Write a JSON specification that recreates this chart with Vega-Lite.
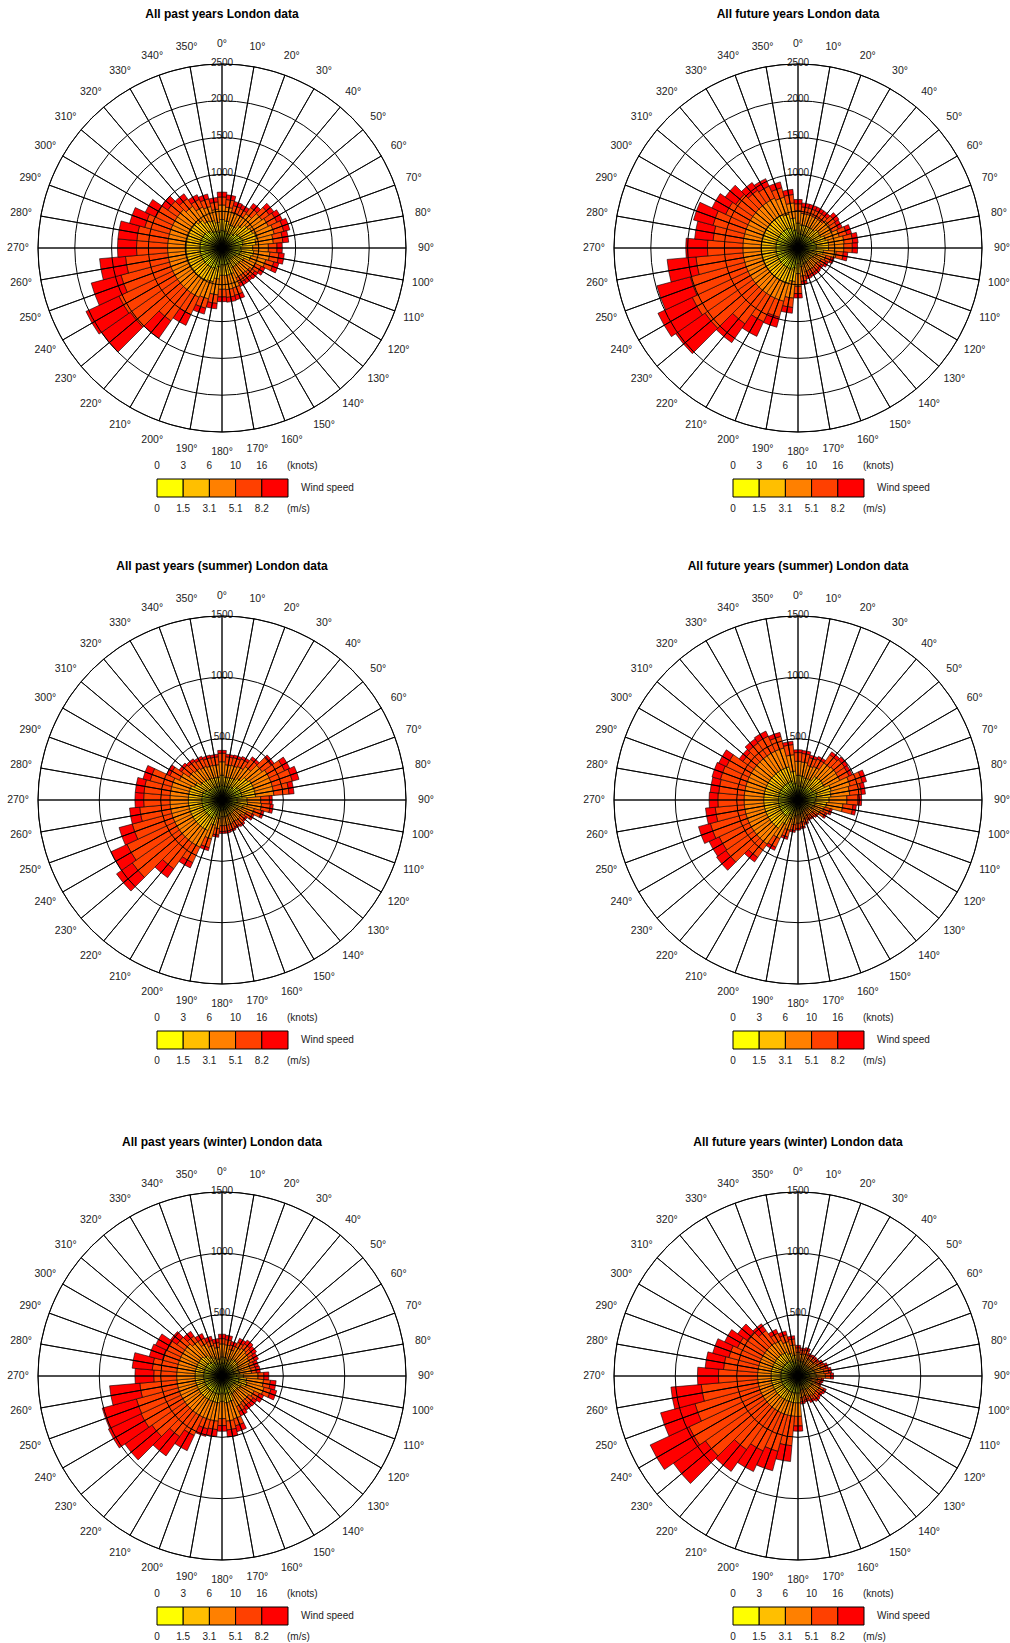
{
"$schema": "https://vega.github.io/schema/vega-lite/v6.json",
"padding": {"left": 6, "top": 8, "right": 0, "bottom": 0},
"autosize": {"type": "pad"},
"background": "white",
"config": {"view": {"stroke": null}, "font": "Liberation Sans", "title": {"font": "Liberation Sans"}},
"datasets": {
"dirs": [{"d":0,"lab":"0°"},{"d":10,"lab":"10°"},{"d":20,"lab":"20°"},{"d":30,"lab":"30°"},{"d":40,"lab":"40°"},{"d":50,"lab":"50°"},{"d":60,"lab":"60°"},{"d":70,"lab":"70°"},{"d":80,"lab":"80°"},{"d":90,"lab":"90°"},{"d":100,"lab":"100°"},{"d":110,"lab":"110°"},{"d":120,"lab":"120°"},{"d":130,"lab":"130°"},{"d":140,"lab":"140°"},{"d":150,"lab":"150°"},{"d":160,"lab":"160°"},{"d":170,"lab":"170°"},{"d":180,"lab":"180°"},{"d":190,"lab":"190°"},{"d":200,"lab":"200°"},{"d":210,"lab":"210°"},{"d":220,"lab":"220°"},{"d":230,"lab":"230°"},{"d":240,"lab":"240°"},{"d":250,"lab":"250°"},{"d":260,"lab":"260°"},{"d":270,"lab":"270°"},{"d":280,"lab":"280°"},{"d":290,"lab":"290°"},{"d":300,"lab":"300°"},{"d":310,"lab":"310°"},{"d":320,"lab":"320°"},{"d":330,"lab":"330°"},{"d":340,"lab":"340°"},{"d":350,"lab":"350°"}],
"ringsTop": [{"r":500,"lab":"500"},{"r":1000,"lab":"1000"},{"r":1500,"lab":"1500"},{"r":2000,"lab":"2000"},{"r":2500,"lab":"2500"}],
"ringsBot": [{"r":500,"lab":"500"},{"r":1000,"lab":"1000"},{"r":1500,"lab":"1500"}],
"legend": [{"cls":"s1","kn":"0","ms":"0"},{"cls":"s2","kn":"3","ms":"1.5"},{"cls":"s3","kn":"6","ms":"3.1"},{"cls":"s4","kn":"10","ms":"5.1"},{"cls":"s5","kn":"16","ms":"8.2"}],
"wind": [
{"p":"A","d":0,"s1":237,"s2":150,"s3":198,"s4":109,"s5":66},
{"p":"A","d":10,"s1":226,"s2":143,"s3":188,"s4":104,"s5":64},
{"p":"A","d":20,"s1":204,"s2":129,"s3":170,"s4":94,"s5":58},
{"p":"A","d":30,"s1":201,"s2":127,"s3":168,"s4":92,"s5":57},
{"p":"A","d":40,"s1":231,"s2":146,"s3":192,"s4":106,"s5":65},
{"p":"A","d":50,"s1":268,"s2":170,"s3":224,"s4":123,"s5":75},
{"p":"A","d":60,"s1":282,"s2":179,"s3":235,"s4":130,"s5":79},
{"p":"A","d":70,"s1":298,"s2":189,"s3":248,"s4":136,"s5":84},
{"p":"A","d":80,"s1":284,"s2":180,"s3":237,"s4":130,"s5":79},
{"p":"A","d":90,"s1":256,"s2":162,"s3":213,"s4":117,"s5":72},
{"p":"A","d":100,"s1":265,"s2":168,"s3":221,"s4":122,"s5":74},
{"p":"A","d":110,"s1":250,"s2":158,"s3":208,"s4":114,"s5":70},
{"p":"A","d":120,"s1":201,"s2":127,"s3":168,"s4":92,"s5":57},
{"p":"A","d":130,"s1":186,"s2":118,"s3":155,"s4":84,"s5":52},
{"p":"A","d":140,"s1":181,"s2":115,"s3":151,"s4":82,"s5":51},
{"p":"A","d":150,"s1":181,"s2":115,"s3":151,"s4":82,"s5":51},
{"p":"A","d":160,"s1":228,"s2":144,"s3":190,"s4":104,"s5":64},
{"p":"A","d":170,"s1":231,"s2":146,"s3":192,"s4":106,"s5":65},
{"p":"A","d":180,"s1":228,"s2":144,"s3":190,"s4":104,"s5":64},
{"p":"A","d":190,"s1":259,"s2":164,"s3":216,"s4":118,"s5":73},
{"p":"A","d":200,"s1":290,"s2":184,"s3":242,"s4":133,"s5":81},
{"p":"A","d":210,"s1":300,"s2":190,"s3":250,"s4":260,"s5":160},
{"p":"A","d":220,"s1":300,"s2":190,"s3":250,"s4":471,"s5":289},
{"p":"A","d":230,"s1":300,"s2":190,"s3":250,"s4":781,"s5":479},
{"p":"A","d":240,"s1":300,"s2":190,"s3":250,"s4":806,"s5":494},
{"p":"A","d":250,"s1":300,"s2":190,"s3":250,"s4":682,"s5":418},
{"p":"A","d":260,"s1":300,"s2":190,"s3":250,"s4":577,"s5":353},
{"p":"A","d":270,"s1":300,"s2":190,"s3":250,"s4":422,"s5":258},
{"p":"A","d":280,"s1":300,"s2":190,"s3":250,"s4":422,"s5":258},
{"p":"A","d":290,"s1":300,"s2":190,"s3":250,"s4":347,"s5":213},
{"p":"A","d":300,"s1":300,"s2":190,"s3":250,"s4":254,"s5":156},
{"p":"A","d":310,"s1":300,"s2":190,"s3":250,"s4":161,"s5":99},
{"p":"A","d":320,"s1":281,"s2":178,"s3":234,"s4":128,"s5":79},
{"p":"A","d":330,"s1":250,"s2":158,"s3":208,"s4":114,"s5":70},
{"p":"A","d":340,"s1":237,"s2":150,"s3":198,"s4":109,"s5":66},
{"p":"A","d":350,"s1":215,"s2":136,"s3":179,"s4":99,"s5":61},
{"p":"B","d":0,"s1":203,"s2":135,"s3":169,"s4":95,"s5":58},
{"p":"B","d":10,"s1":189,"s2":126,"s3":158,"s4":88,"s5":54},
{"p":"B","d":20,"s1":189,"s2":126,"s3":158,"s4":88,"s5":54},
{"p":"B","d":30,"s1":189,"s2":126,"s3":158,"s4":88,"s5":54},
{"p":"B","d":40,"s1":189,"s2":126,"s3":158,"s4":88,"s5":54},
{"p":"B","d":50,"s1":209,"s2":139,"s3":174,"s4":98,"s5":60},
{"p":"B","d":60,"s1":205,"s2":136,"s3":171,"s4":95,"s5":58},
{"p":"B","d":70,"s1":232,"s2":155,"s3":194,"s4":108,"s5":66},
{"p":"B","d":80,"s1":252,"s2":168,"s3":210,"s4":118,"s5":72},
{"p":"B","d":90,"s1":249,"s2":166,"s3":208,"s4":116,"s5":71},
{"p":"B","d":100,"s1":209,"s2":139,"s3":174,"s4":98,"s5":60},
{"p":"B","d":110,"s1":157,"s2":105,"s3":131,"s4":73,"s5":44},
{"p":"B","d":120,"s1":140,"s2":93,"s3":117,"s4":65,"s5":40},
{"p":"B","d":130,"s1":129,"s2":86,"s3":108,"s4":60,"s5":37},
{"p":"B","d":140,"s1":132,"s2":88,"s3":110,"s4":62,"s5":38},
{"p":"B","d":150,"s1":132,"s2":88,"s3":110,"s4":62,"s5":38},
{"p":"B","d":160,"s1":135,"s2":90,"s3":113,"s4":63,"s5":39},
{"p":"B","d":170,"s1":154,"s2":103,"s3":128,"s4":71,"s5":44},
{"p":"B","d":180,"s1":209,"s2":139,"s3":174,"s4":98,"s5":60},
{"p":"B","d":190,"s1":274,"s2":183,"s3":228,"s4":127,"s5":78},
{"p":"B","d":200,"s1":300,"s2":200,"s3":250,"s4":226,"s5":139},
{"p":"B","d":210,"s1":300,"s2":200,"s3":250,"s4":357,"s5":218},
{"p":"B","d":220,"s1":300,"s2":200,"s3":250,"s4":508,"s5":312},
{"p":"B","d":230,"s1":300,"s2":200,"s3":250,"s4":794,"s5":486},
{"p":"B","d":240,"s1":300,"s2":200,"s3":250,"s4":837,"s5":513},
{"p":"B","d":250,"s1":300,"s2":200,"s3":250,"s4":766,"s5":469},
{"p":"B","d":260,"s1":300,"s2":200,"s3":250,"s4":642,"s5":393},
{"p":"B","d":270,"s1":300,"s2":200,"s3":250,"s4":481,"s5":294},
{"p":"B","d":280,"s1":300,"s2":200,"s3":250,"s4":409,"s5":251},
{"p":"B","d":290,"s1":300,"s2":200,"s3":250,"s4":446,"s5":274},
{"p":"B","d":300,"s1":300,"s2":200,"s3":250,"s4":335,"s5":205},
{"p":"B","d":310,"s1":300,"s2":200,"s3":250,"s4":283,"s5":174},
{"p":"B","d":320,"s1":300,"s2":200,"s3":250,"s4":209,"s5":128},
{"p":"B","d":330,"s1":300,"s2":200,"s3":250,"s4":180,"s5":110},
{"p":"B","d":340,"s1":286,"s2":191,"s3":239,"s4":133,"s5":81},
{"p":"B","d":350,"s1":246,"s2":164,"s3":205,"s4":115,"s5":70},
{"p":"C","d":0,"s1":121,"s2":81,"s3":110,"s4":70,"s5":23},
{"p":"C","d":10,"s1":112,"s2":75,"s3":102,"s4":65,"s5":21},
{"p":"C","d":20,"s1":114,"s2":76,"s3":103,"s4":65,"s5":22},
{"p":"C","d":30,"s1":117,"s2":78,"s3":107,"s4":68,"s5":22},
{"p":"C","d":40,"s1":129,"s2":86,"s3":117,"s4":74,"s5":24},
{"p":"C","d":50,"s1":155,"s2":104,"s3":141,"s4":90,"s5":30},
{"p":"C","d":60,"s1":165,"s2":110,"s3":150,"s4":139,"s5":46},
{"p":"C","d":70,"s1":165,"s2":110,"s3":150,"s4":169,"s5":56},
{"p":"C","d":80,"s1":165,"s2":110,"s3":150,"s4":124,"s5":41},
{"p":"C","d":90,"s1":123,"s2":82,"s3":111,"s4":71,"s5":23},
{"p":"C","d":100,"s1":126,"s2":84,"s3":114,"s4":72,"s5":24},
{"p":"C","d":110,"s1":106,"s2":71,"s3":96,"s4":62,"s5":20},
{"p":"C","d":120,"s1":86,"s2":57,"s3":78,"s4":50,"s5":17},
{"p":"C","d":130,"s1":75,"s2":50,"s3":68,"s4":43,"s5":14},
{"p":"C","d":140,"s1":79,"s2":53,"s3":72,"s4":46,"s5":15},
{"p":"C","d":150,"s1":77,"s2":51,"s3":70,"s4":44,"s5":14},
{"p":"C","d":160,"s1":80,"s2":53,"s3":73,"s4":47,"s5":15},
{"p":"C","d":170,"s1":82,"s2":54,"s3":74,"s4":47,"s5":16},
{"p":"C","d":180,"s1":82,"s2":54,"s3":74,"s4":47,"s5":16},
{"p":"C","d":190,"s1":91,"s2":61,"s3":83,"s4":53,"s5":17},
{"p":"C","d":200,"s1":128,"s2":85,"s3":116,"s4":74,"s5":25},
{"p":"C","d":210,"s1":165,"s2":110,"s3":150,"s4":140,"s5":46},
{"p":"C","d":220,"s1":165,"s2":110,"s3":150,"s4":261,"s5":87},
{"p":"C","d":230,"s1":165,"s2":110,"s3":150,"s4":469,"s5":156},
{"p":"C","d":240,"s1":165,"s2":110,"s3":150,"s4":431,"s5":144},
{"p":"C","d":250,"s1":165,"s2":110,"s3":150,"s4":333,"s5":111},
{"p":"C","d":260,"s1":165,"s2":110,"s3":150,"s4":249,"s5":83},
{"p":"C","d":270,"s1":165,"s2":110,"s3":150,"s4":214,"s5":71},
{"p":"C","d":280,"s1":165,"s2":110,"s3":150,"s4":214,"s5":71},
{"p":"C","d":290,"s1":165,"s2":110,"s3":150,"s4":182,"s5":60},
{"p":"C","d":300,"s1":149,"s2":99,"s3":135,"s4":86,"s5":28},
{"p":"C","d":310,"s1":128,"s2":85,"s3":116,"s4":74,"s5":24},
{"p":"C","d":320,"s1":123,"s2":82,"s3":111,"s4":71,"s5":23},
{"p":"C","d":330,"s1":118,"s2":79,"s3":107,"s4":68,"s5":22},
{"p":"C","d":340,"s1":114,"s2":76,"s3":103,"s4":65,"s5":22},
{"p":"C","d":350,"s1":112,"s2":75,"s3":102,"s4":65,"s5":21},
{"p":"D","d":0,"s1":115,"s2":86,"s3":115,"s4":71,"s5":23},
{"p":"D","d":10,"s1":113,"s2":85,"s3":113,"s4":70,"s5":24},
{"p":"D","d":20,"s1":106,"s2":80,"s3":106,"s4":66,"s5":22},
{"p":"D","d":30,"s1":110,"s2":82,"s3":110,"s4":68,"s5":23},
{"p":"D","d":40,"s1":134,"s2":101,"s3":134,"s4":83,"s5":28},
{"p":"D","d":50,"s1":138,"s2":104,"s3":138,"s4":86,"s5":29},
{"p":"D","d":60,"s1":137,"s2":103,"s3":137,"s4":84,"s5":28},
{"p":"D","d":70,"s1":160,"s2":120,"s3":160,"s4":104,"s5":35},
{"p":"D","d":80,"s1":154,"s2":116,"s3":154,"s4":96,"s5":32},
{"p":"D","d":90,"s1":145,"s2":109,"s3":145,"s4":90,"s5":30},
{"p":"D","d":100,"s1":134,"s2":100,"s3":134,"s4":83,"s5":27},
{"p":"D","d":110,"s1":81,"s2":61,"s3":81,"s4":50,"s5":17},
{"p":"D","d":120,"s1":73,"s2":55,"s3":73,"s4":46,"s5":15},
{"p":"D","d":130,"s1":56,"s2":42,"s3":56,"s4":36,"s5":12},
{"p":"D","d":140,"s1":53,"s2":40,"s3":53,"s4":33,"s5":11},
{"p":"D","d":150,"s1":52,"s2":39,"s3":52,"s4":32,"s5":11},
{"p":"D","d":160,"s1":58,"s2":44,"s3":58,"s4":36,"s5":12},
{"p":"D","d":170,"s1":66,"s2":49,"s3":66,"s4":41,"s5":13},
{"p":"D","d":180,"s1":69,"s2":52,"s3":69,"s4":42,"s5":14},
{"p":"D","d":190,"s1":74,"s2":56,"s3":74,"s4":46,"s5":15},
{"p":"D","d":200,"s1":93,"s2":70,"s3":93,"s4":58,"s5":19},
{"p":"D","d":210,"s1":127,"s2":95,"s3":127,"s4":78,"s5":26},
{"p":"D","d":220,"s1":160,"s2":120,"s3":160,"s4":133,"s5":44},
{"p":"D","d":230,"s1":160,"s2":120,"s3":160,"s4":278,"s5":93},
{"p":"D","d":240,"s1":160,"s2":120,"s3":160,"s4":270,"s5":90},
{"p":"D","d":250,"s1":160,"s2":120,"s3":160,"s4":300,"s5":100},
{"p":"D","d":260,"s1":160,"s2":120,"s3":160,"s4":238,"s5":79},
{"p":"D","d":270,"s1":160,"s2":120,"s3":160,"s4":214,"s5":71},
{"p":"D","d":280,"s1":160,"s2":120,"s3":160,"s4":209,"s5":70},
{"p":"D","d":290,"s1":160,"s2":120,"s3":160,"s4":215,"s5":71},
{"p":"D","d":300,"s1":160,"s2":120,"s3":160,"s4":205,"s5":68},
{"p":"D","d":310,"s1":160,"s2":120,"s3":160,"s4":109,"s5":36},
{"p":"D","d":320,"s1":160,"s2":120,"s3":160,"s4":128,"s5":42},
{"p":"D","d":330,"s1":160,"s2":120,"s3":160,"s4":135,"s5":45},
{"p":"D","d":340,"s1":160,"s2":120,"s3":160,"s4":98,"s5":33},
{"p":"D","d":350,"s1":135,"s2":101,"s3":135,"s4":83,"s5":27},
{"p":"E","d":0,"s1":106,"s2":50,"s3":106,"s4":43,"s5":36},
{"p":"E","d":10,"s1":104,"s2":48,"s3":104,"s4":42,"s5":35},
{"p":"E","d":20,"s1":91,"s2":43,"s3":91,"s4":37,"s5":31},
{"p":"E","d":30,"s1":106,"s2":49,"s3":106,"s4":43,"s5":35},
{"p":"E","d":40,"s1":112,"s2":52,"s3":112,"s4":45,"s5":37},
{"p":"E","d":50,"s1":107,"s2":50,"s3":107,"s4":44,"s5":36},
{"p":"E","d":60,"s1":102,"s2":48,"s3":102,"s4":42,"s5":34},
{"p":"E","d":70,"s1":96,"s2":45,"s3":96,"s4":39,"s5":32},
{"p":"E","d":80,"s1":98,"s2":46,"s3":98,"s4":40,"s5":32},
{"p":"E","d":90,"s1":119,"s2":56,"s3":119,"s4":48,"s5":40},
{"p":"E","d":100,"s1":138,"s2":64,"s3":138,"s4":57,"s5":46},
{"p":"E","d":110,"s1":144,"s2":67,"s3":144,"s4":59,"s5":48},
{"p":"E","d":120,"s1":117,"s2":55,"s3":117,"s4":47,"s5":39},
{"p":"E","d":130,"s1":108,"s2":50,"s3":108,"s4":45,"s5":36},
{"p":"E","d":140,"s1":107,"s2":50,"s3":107,"s4":43,"s5":35},
{"p":"E","d":150,"s1":112,"s2":52,"s3":112,"s4":46,"s5":38},
{"p":"E","d":160,"s1":147,"s2":68,"s3":147,"s4":59,"s5":49},
{"p":"E","d":170,"s1":150,"s2":70,"s3":150,"s4":72,"s5":58},
{"p":"E","d":180,"s1":141,"s2":66,"s3":141,"s4":57,"s5":46},
{"p":"E","d":190,"s1":150,"s2":70,"s3":150,"s4":69,"s5":56},
{"p":"E","d":200,"s1":150,"s2":70,"s3":150,"s4":77,"s5":63},
{"p":"E","d":210,"s1":150,"s2":70,"s3":150,"s4":166,"s5":136},
{"p":"E","d":220,"s1":150,"s2":70,"s3":150,"s4":234,"s5":191},
{"p":"E","d":230,"s1":150,"s2":70,"s3":150,"s4":328,"s5":269},
{"p":"E","d":240,"s1":150,"s2":70,"s3":150,"s4":359,"s5":293},
{"p":"E","d":250,"s1":150,"s2":70,"s3":150,"s4":353,"s5":288},
{"p":"E","d":260,"s1":150,"s2":70,"s3":150,"s4":303,"s5":247},
{"p":"E","d":270,"s1":150,"s2":70,"s3":150,"s4":187,"s5":153},
{"p":"E","d":280,"s1":150,"s2":70,"s3":150,"s4":201,"s5":164},
{"p":"E","d":290,"s1":150,"s2":70,"s3":150,"s4":134,"s5":110},
{"p":"E","d":300,"s1":150,"s2":70,"s3":150,"s4":125,"s5":103},
{"p":"E","d":310,"s1":150,"s2":70,"s3":150,"s4":79,"s5":64},
{"p":"E","d":320,"s1":139,"s2":65,"s3":139,"s4":56,"s5":46},
{"p":"E","d":330,"s1":119,"s2":56,"s3":119,"s4":48,"s5":40},
{"p":"E","d":340,"s1":105,"s2":49,"s3":105,"s4":42,"s5":35},
{"p":"E","d":350,"s1":95,"s2":45,"s3":95,"s4":39,"s5":32},
{"p":"F","d":0,"s1":82,"s2":47,"s3":64,"s4":37,"s5":20},
{"p":"F","d":10,"s1":75,"s2":43,"s3":59,"s4":34,"s5":19},
{"p":"F","d":20,"s1":78,"s2":45,"s3":62,"s4":36,"s5":19},
{"p":"F","d":30,"s1":67,"s2":38,"s3":53,"s4":31,"s5":16},
{"p":"F","d":40,"s1":69,"s2":39,"s3":54,"s4":31,"s5":17},
{"p":"F","d":50,"s1":69,"s2":39,"s3":54,"s4":31,"s5":17},
{"p":"F","d":60,"s1":75,"s2":43,"s3":59,"s4":34,"s5":19},
{"p":"F","d":70,"s1":83,"s2":48,"s3":65,"s4":38,"s5":21},
{"p":"F","d":80,"s1":90,"s2":51,"s3":71,"s4":41,"s5":22},
{"p":"F","d":90,"s1":95,"s2":54,"s3":74,"s4":44,"s5":23},
{"p":"F","d":100,"s1":69,"s2":39,"s3":54,"s4":31,"s5":17},
{"p":"F","d":110,"s1":65,"s2":37,"s3":51,"s4":31,"s5":16},
{"p":"F","d":120,"s1":83,"s2":48,"s3":65,"s4":38,"s5":21},
{"p":"F","d":130,"s1":80,"s2":46,"s3":63,"s4":36,"s5":20},
{"p":"F","d":140,"s1":83,"s2":48,"s3":65,"s4":38,"s5":21},
{"p":"F","d":150,"s1":78,"s2":45,"s3":62,"s4":36,"s5":19},
{"p":"F","d":160,"s1":72,"s2":41,"s3":56,"s4":33,"s5":18},
{"p":"F","d":170,"s1":75,"s2":43,"s3":59,"s4":34,"s5":19},
{"p":"F","d":180,"s1":140,"s2":80,"s3":110,"s4":78,"s5":42},
{"p":"F","d":190,"s1":140,"s2":80,"s3":110,"s4":241,"s5":129},
{"p":"F","d":200,"s1":140,"s2":80,"s3":110,"s4":306,"s5":164},
{"p":"F","d":210,"s1":140,"s2":80,"s3":110,"s4":345,"s5":185},
{"p":"F","d":220,"s1":140,"s2":80,"s3":110,"s4":403,"s5":217},
{"p":"F","d":230,"s1":140,"s2":80,"s3":110,"s4":592,"s5":318},
{"p":"F","d":240,"s1":140,"s2":80,"s3":110,"s4":650,"s5":350},
{"p":"F","d":250,"s1":140,"s2":80,"s3":110,"s4":540,"s5":290},
{"p":"F","d":260,"s1":140,"s2":80,"s3":110,"s4":462,"s5":248},
{"p":"F","d":270,"s1":140,"s2":80,"s3":110,"s4":319,"s5":171},
{"p":"F","d":280,"s1":140,"s2":80,"s3":110,"s4":280,"s5":150},
{"p":"F","d":290,"s1":140,"s2":80,"s3":110,"s4":254,"s5":136},
{"p":"F","d":300,"s1":140,"s2":80,"s3":110,"s4":215,"s5":115},
{"p":"F","d":310,"s1":140,"s2":80,"s3":110,"s4":176,"s5":94},
{"p":"F","d":320,"s1":140,"s2":80,"s3":110,"s4":124,"s5":66},
{"p":"F","d":330,"s1":137,"s2":78,"s3":108,"s4":63,"s5":34},
{"p":"F","d":340,"s1":124,"s2":71,"s3":97,"s4":57,"s5":31},
{"p":"F","d":350,"s1":108,"s2":62,"s3":85,"s4":49,"s5":26}
]
},
"vconcat": [
{"vconcat": [
{"hconcat": [
{"vconcat": [
{"width": 432, "height": 432,
"title": {"text": "All past years London data", "fontSize": 12, "fontWeight": "bold", "anchor": "middle", "frame": "group", "offset": 11, "color": "black"},
"layer": [
{"data": {"name": "ringsTop"}, "mark": {"type": "text", "fontSize": 10, "baseline": "middle", "align": "center", "dy": -1.5, "color": "#222"}, "encoding": {"theta": {"datum": 0, "type": "quantitative", "scale": {"domain": [0, 360], "range": [0, 6.283185307179586]}}, "radius": {"field": "r", "type": "quantitative", "scale": {"type": "linear", "domain": [0, 2500], "range": [0, 184], "zero": true}}, "text": {"field": "lab"}}},
{"data": {"name": "wind"}, "transform": [{"filter": "datum.p === 'A'"}, {"fold": ["s1","s2","s3","s4","s5"], "as": ["cls","v"]}, {"stack": "v", "groupby": ["d"], "sort": [{"field": "cls", "order": "ascending"}], "as": ["r0","r1"]}, {"calculate": "datum.d - 5", "as": "t0"}, {"calculate": "datum.d + 5", "as": "t1"}], "mark": {"type": "arc", "stroke": "black", "strokeWidth": 0.6}, "encoding": {"theta": {"field": "t0", "type": "quantitative", "stack": null, "scale": {"domain": [0, 360], "range": [0, 6.283185307179586]}}, "theta2": {"field": "t1"}, "radius": {"field": "r1", "type": "quantitative", "stack": null, "scale": {"type": "linear", "domain": [0, 2500], "range": [0, 184], "zero": true}}, "radius2": {"field": "r0"}, "color": {"field": "cls", "type": "nominal", "legend": null, "scale": {"domain": ["s1","s2","s3","s4","s5"], "range": ["#FFFF00","#FFBF00","#FF8000","#FF4000","#FF0000"]}}}},
{"data": {"name": "ringsTop"}, "mark": {"type": "arc", "filled": false, "stroke": "black", "strokeWidth": 1}, "encoding": {"theta": {"datum": 0, "type": "quantitative", "scale": {"domain": [0, 360], "range": [0, 6.283185307179586]}}, "theta2": {"datum": 360}, "radius": {"field": "r", "type": "quantitative", "scale": {"type": "linear", "domain": [0, 2500], "range": [0, 184], "zero": true}}, "radius2": {"datum": 0}}},
{"data": {"name": "dirs"}, "transform": [{"calculate": "datum.d + 10", "as": "d2"}], "mark": {"type": "arc", "filled": false, "stroke": "black", "strokeWidth": 0.9}, "encoding": {"theta": {"field": "d", "type": "quantitative", "scale": {"domain": [0, 360], "range": [0, 6.283185307179586]}}, "theta2": {"field": "d2"}, "radius": {"datum": 2500, "type": "quantitative", "scale": {"type": "linear", "domain": [0, 2500], "range": [0, 184], "zero": true}}, "radius2": {"datum": 0}}},
{"data": {"name": "dirs"}, "mark": {"type": "text", "fontSize": 10.5, "baseline": "middle", "align": "center", "color": "#222"}, "encoding": {"theta": {"field": "d", "type": "quantitative", "scale": {"domain": [0, 360], "range": [0, 6.283185307179586]}}, "radius": {"datum": 2772, "type": "quantitative", "scale": {"type": "linear", "domain": [0, 2500], "range": [0, 184], "zero": true}}, "text": {"field": "lab"}}}
]},
{"width": 432, "height": 18, "data": {"name": "legend"},
"layer": [
{"mark": {"type": "rect", "stroke": "black", "strokeWidth": 1}, "encoding": {"x": {"field": "cls", "type": "nominal", "axis": null, "scale": {"type": "band", "domain": ["s1","s2","s3","s4","s5"], "range": [151, 282], "paddingInner": 0, "paddingOuter": 0}}, "color": {"field": "cls", "type": "nominal", "legend": null, "scale": {"domain": ["s1","s2","s3","s4","s5"], "range": ["#FFFF00","#FFBF00","#FF8000","#FF4000","#FF0000"]}}}},
{"mark": {"type": "text", "dy": -22, "fontSize": 10, "color": "#222", "align": "center", "baseline": "middle"}, "encoding": {"x": {"field": "cls", "type": "nominal", "bandPosition": 0, "axis": null, "scale": {"type": "band", "domain": ["s1","s2","s3","s4","s5"], "range": [151, 282], "paddingInner": 0, "paddingOuter": 0}}, "text": {"field": "kn"}}},
{"mark": {"type": "text", "dy": 21, "fontSize": 10, "color": "#222", "align": "center", "baseline": "middle"}, "encoding": {"x": {"field": "cls", "type": "nominal", "bandPosition": 0, "axis": null, "scale": {"type": "band", "domain": ["s1","s2","s3","s4","s5"], "range": [151, 282], "paddingInner": 0, "paddingOuter": 0}}, "text": {"field": "ms"}}},
{"data": {"values": [{"t": "(knots)"}]}, "mark": {"type": "text", "dy": -22, "dx": -1, "fontSize": 10, "color": "#222", "align": "left", "baseline": "middle"}, "encoding": {"x": {"datum": "s5", "type": "nominal", "bandPosition": 1, "axis": null, "scale": {"type": "band", "domain": ["s1","s2","s3","s4","s5"], "range": [151, 282], "paddingInner": 0, "paddingOuter": 0}}, "text": {"field": "t"}}},
{"data": {"values": [{"t": "(m/s)"}]}, "mark": {"type": "text", "dy": 21, "dx": -1, "fontSize": 10, "color": "#222", "align": "left", "baseline": "middle"}, "encoding": {"x": {"datum": "s5", "type": "nominal", "bandPosition": 1, "axis": null, "scale": {"type": "band", "domain": ["s1","s2","s3","s4","s5"], "range": [151, 282], "paddingInner": 0, "paddingOuter": 0}}, "text": {"field": "t"}}},
{"data": {"values": [{"t": "Wind speed"}]}, "mark": {"type": "text", "dx": 13, "fontSize": 10, "color": "#222", "align": "left", "baseline": "middle"}, "encoding": {"x": {"datum": "s5", "type": "nominal", "bandPosition": 1, "axis": null, "scale": {"type": "band", "domain": ["s1","s2","s3","s4","s5"], "range": [151, 282], "paddingInner": 0, "paddingOuter": 0}}, "text": {"field": "t"}}}
]}
], "spacing": -3},
{"vconcat": [
{"width": 432, "height": 432,
"title": {"text": "All future years London data", "fontSize": 12, "fontWeight": "bold", "anchor": "middle", "frame": "group", "offset": 11, "color": "black"},
"layer": [
{"data": {"name": "ringsTop"}, "mark": {"type": "text", "fontSize": 10, "baseline": "middle", "align": "center", "dy": -1.5, "color": "#222"}, "encoding": {"theta": {"datum": 0, "type": "quantitative", "scale": {"domain": [0, 360], "range": [0, 6.283185307179586]}}, "radius": {"field": "r", "type": "quantitative", "scale": {"type": "linear", "domain": [0, 2500], "range": [0, 184], "zero": true}}, "text": {"field": "lab"}}},
{"data": {"name": "wind"}, "transform": [{"filter": "datum.p === 'B'"}, {"fold": ["s1","s2","s3","s4","s5"], "as": ["cls","v"]}, {"stack": "v", "groupby": ["d"], "sort": [{"field": "cls", "order": "ascending"}], "as": ["r0","r1"]}, {"calculate": "datum.d - 5", "as": "t0"}, {"calculate": "datum.d + 5", "as": "t1"}], "mark": {"type": "arc", "stroke": "black", "strokeWidth": 0.6}, "encoding": {"theta": {"field": "t0", "type": "quantitative", "stack": null, "scale": {"domain": [0, 360], "range": [0, 6.283185307179586]}}, "theta2": {"field": "t1"}, "radius": {"field": "r1", "type": "quantitative", "stack": null, "scale": {"type": "linear", "domain": [0, 2500], "range": [0, 184], "zero": true}}, "radius2": {"field": "r0"}, "color": {"field": "cls", "type": "nominal", "legend": null, "scale": {"domain": ["s1","s2","s3","s4","s5"], "range": ["#FFFF00","#FFBF00","#FF8000","#FF4000","#FF0000"]}}}},
{"data": {"name": "ringsTop"}, "mark": {"type": "arc", "filled": false, "stroke": "black", "strokeWidth": 1}, "encoding": {"theta": {"datum": 0, "type": "quantitative", "scale": {"domain": [0, 360], "range": [0, 6.283185307179586]}}, "theta2": {"datum": 360}, "radius": {"field": "r", "type": "quantitative", "scale": {"type": "linear", "domain": [0, 2500], "range": [0, 184], "zero": true}}, "radius2": {"datum": 0}}},
{"data": {"name": "dirs"}, "transform": [{"calculate": "datum.d + 10", "as": "d2"}], "mark": {"type": "arc", "filled": false, "stroke": "black", "strokeWidth": 0.9}, "encoding": {"theta": {"field": "d", "type": "quantitative", "scale": {"domain": [0, 360], "range": [0, 6.283185307179586]}}, "theta2": {"field": "d2"}, "radius": {"datum": 2500, "type": "quantitative", "scale": {"type": "linear", "domain": [0, 2500], "range": [0, 184], "zero": true}}, "radius2": {"datum": 0}}},
{"data": {"name": "dirs"}, "mark": {"type": "text", "fontSize": 10.5, "baseline": "middle", "align": "center", "color": "#222"}, "encoding": {"theta": {"field": "d", "type": "quantitative", "scale": {"domain": [0, 360], "range": [0, 6.283185307179586]}}, "radius": {"datum": 2772, "type": "quantitative", "scale": {"type": "linear", "domain": [0, 2500], "range": [0, 184], "zero": true}}, "text": {"field": "lab"}}}
]},
{"width": 432, "height": 18, "data": {"name": "legend"},
"layer": [
{"mark": {"type": "rect", "stroke": "black", "strokeWidth": 1}, "encoding": {"x": {"field": "cls", "type": "nominal", "axis": null, "scale": {"type": "band", "domain": ["s1","s2","s3","s4","s5"], "range": [151, 282], "paddingInner": 0, "paddingOuter": 0}}, "color": {"field": "cls", "type": "nominal", "legend": null, "scale": {"domain": ["s1","s2","s3","s4","s5"], "range": ["#FFFF00","#FFBF00","#FF8000","#FF4000","#FF0000"]}}}},
{"mark": {"type": "text", "dy": -22, "fontSize": 10, "color": "#222", "align": "center", "baseline": "middle"}, "encoding": {"x": {"field": "cls", "type": "nominal", "bandPosition": 0, "axis": null, "scale": {"type": "band", "domain": ["s1","s2","s3","s4","s5"], "range": [151, 282], "paddingInner": 0, "paddingOuter": 0}}, "text": {"field": "kn"}}},
{"mark": {"type": "text", "dy": 21, "fontSize": 10, "color": "#222", "align": "center", "baseline": "middle"}, "encoding": {"x": {"field": "cls", "type": "nominal", "bandPosition": 0, "axis": null, "scale": {"type": "band", "domain": ["s1","s2","s3","s4","s5"], "range": [151, 282], "paddingInner": 0, "paddingOuter": 0}}, "text": {"field": "ms"}}},
{"data": {"values": [{"t": "(knots)"}]}, "mark": {"type": "text", "dy": -22, "dx": -1, "fontSize": 10, "color": "#222", "align": "left", "baseline": "middle"}, "encoding": {"x": {"datum": "s5", "type": "nominal", "bandPosition": 1, "axis": null, "scale": {"type": "band", "domain": ["s1","s2","s3","s4","s5"], "range": [151, 282], "paddingInner": 0, "paddingOuter": 0}}, "text": {"field": "t"}}},
{"data": {"values": [{"t": "(m/s)"}]}, "mark": {"type": "text", "dy": 21, "dx": -1, "fontSize": 10, "color": "#222", "align": "left", "baseline": "middle"}, "encoding": {"x": {"datum": "s5", "type": "nominal", "bandPosition": 1, "axis": null, "scale": {"type": "band", "domain": ["s1","s2","s3","s4","s5"], "range": [151, 282], "paddingInner": 0, "paddingOuter": 0}}, "text": {"field": "t"}}},
{"data": {"values": [{"t": "Wind speed"}]}, "mark": {"type": "text", "dx": 13, "fontSize": 10, "color": "#222", "align": "left", "baseline": "middle"}, "encoding": {"x": {"datum": "s5", "type": "nominal", "bandPosition": 1, "axis": null, "scale": {"type": "band", "domain": ["s1","s2","s3","s4","s5"], "range": [151, 282], "paddingInner": 0, "paddingOuter": 0}}, "text": {"field": "t"}}}
]}
], "spacing": -3}
], "spacing": 144},
{"hconcat": [
{"vconcat": [
{"width": 432, "height": 432,
"title": {"text": "All past years (summer) London data", "fontSize": 12, "fontWeight": "bold", "anchor": "middle", "frame": "group", "offset": 11, "color": "black"},
"layer": [
{"data": {"name": "ringsBot"}, "mark": {"type": "text", "fontSize": 10, "baseline": "middle", "align": "center", "dy": -1.5, "color": "#222"}, "encoding": {"theta": {"datum": 0, "type": "quantitative", "scale": {"domain": [0, 360], "range": [0, 6.283185307179586]}}, "radius": {"field": "r", "type": "quantitative", "scale": {"type": "linear", "domain": [0, 1500], "range": [0, 184], "zero": true}}, "text": {"field": "lab"}}},
{"data": {"name": "wind"}, "transform": [{"filter": "datum.p === 'C'"}, {"fold": ["s1","s2","s3","s4","s5"], "as": ["cls","v"]}, {"stack": "v", "groupby": ["d"], "sort": [{"field": "cls", "order": "ascending"}], "as": ["r0","r1"]}, {"calculate": "datum.d - 5", "as": "t0"}, {"calculate": "datum.d + 5", "as": "t1"}], "mark": {"type": "arc", "stroke": "black", "strokeWidth": 0.6}, "encoding": {"theta": {"field": "t0", "type": "quantitative", "stack": null, "scale": {"domain": [0, 360], "range": [0, 6.283185307179586]}}, "theta2": {"field": "t1"}, "radius": {"field": "r1", "type": "quantitative", "stack": null, "scale": {"type": "linear", "domain": [0, 1500], "range": [0, 184], "zero": true}}, "radius2": {"field": "r0"}, "color": {"field": "cls", "type": "nominal", "legend": null, "scale": {"domain": ["s1","s2","s3","s4","s5"], "range": ["#FFFF00","#FFBF00","#FF8000","#FF4000","#FF0000"]}}}},
{"data": {"name": "ringsBot"}, "mark": {"type": "arc", "filled": false, "stroke": "black", "strokeWidth": 1}, "encoding": {"theta": {"datum": 0, "type": "quantitative", "scale": {"domain": [0, 360], "range": [0, 6.283185307179586]}}, "theta2": {"datum": 360}, "radius": {"field": "r", "type": "quantitative", "scale": {"type": "linear", "domain": [0, 1500], "range": [0, 184], "zero": true}}, "radius2": {"datum": 0}}},
{"data": {"name": "dirs"}, "transform": [{"calculate": "datum.d + 10", "as": "d2"}], "mark": {"type": "arc", "filled": false, "stroke": "black", "strokeWidth": 0.9}, "encoding": {"theta": {"field": "d", "type": "quantitative", "scale": {"domain": [0, 360], "range": [0, 6.283185307179586]}}, "theta2": {"field": "d2"}, "radius": {"datum": 1500, "type": "quantitative", "scale": {"type": "linear", "domain": [0, 1500], "range": [0, 184], "zero": true}}, "radius2": {"datum": 0}}},
{"data": {"name": "dirs"}, "mark": {"type": "text", "fontSize": 10.5, "baseline": "middle", "align": "center", "color": "#222"}, "encoding": {"theta": {"field": "d", "type": "quantitative", "scale": {"domain": [0, 360], "range": [0, 6.283185307179586]}}, "radius": {"datum": 1663, "type": "quantitative", "scale": {"type": "linear", "domain": [0, 1500], "range": [0, 184], "zero": true}}, "text": {"field": "lab"}}}
]},
{"width": 432, "height": 18, "data": {"name": "legend"},
"layer": [
{"mark": {"type": "rect", "stroke": "black", "strokeWidth": 1}, "encoding": {"x": {"field": "cls", "type": "nominal", "axis": null, "scale": {"type": "band", "domain": ["s1","s2","s3","s4","s5"], "range": [151, 282], "paddingInner": 0, "paddingOuter": 0}}, "color": {"field": "cls", "type": "nominal", "legend": null, "scale": {"domain": ["s1","s2","s3","s4","s5"], "range": ["#FFFF00","#FFBF00","#FF8000","#FF4000","#FF0000"]}}}},
{"mark": {"type": "text", "dy": -22, "fontSize": 10, "color": "#222", "align": "center", "baseline": "middle"}, "encoding": {"x": {"field": "cls", "type": "nominal", "bandPosition": 0, "axis": null, "scale": {"type": "band", "domain": ["s1","s2","s3","s4","s5"], "range": [151, 282], "paddingInner": 0, "paddingOuter": 0}}, "text": {"field": "kn"}}},
{"mark": {"type": "text", "dy": 21, "fontSize": 10, "color": "#222", "align": "center", "baseline": "middle"}, "encoding": {"x": {"field": "cls", "type": "nominal", "bandPosition": 0, "axis": null, "scale": {"type": "band", "domain": ["s1","s2","s3","s4","s5"], "range": [151, 282], "paddingInner": 0, "paddingOuter": 0}}, "text": {"field": "ms"}}},
{"data": {"values": [{"t": "(knots)"}]}, "mark": {"type": "text", "dy": -22, "dx": -1, "fontSize": 10, "color": "#222", "align": "left", "baseline": "middle"}, "encoding": {"x": {"datum": "s5", "type": "nominal", "bandPosition": 1, "axis": null, "scale": {"type": "band", "domain": ["s1","s2","s3","s4","s5"], "range": [151, 282], "paddingInner": 0, "paddingOuter": 0}}, "text": {"field": "t"}}},
{"data": {"values": [{"t": "(m/s)"}]}, "mark": {"type": "text", "dy": 21, "dx": -1, "fontSize": 10, "color": "#222", "align": "left", "baseline": "middle"}, "encoding": {"x": {"datum": "s5", "type": "nominal", "bandPosition": 1, "axis": null, "scale": {"type": "band", "domain": ["s1","s2","s3","s4","s5"], "range": [151, 282], "paddingInner": 0, "paddingOuter": 0}}, "text": {"field": "t"}}},
{"data": {"values": [{"t": "Wind speed"}]}, "mark": {"type": "text", "dx": 13, "fontSize": 10, "color": "#222", "align": "left", "baseline": "middle"}, "encoding": {"x": {"datum": "s5", "type": "nominal", "bandPosition": 1, "axis": null, "scale": {"type": "band", "domain": ["s1","s2","s3","s4","s5"], "range": [151, 282], "paddingInner": 0, "paddingOuter": 0}}, "text": {"field": "t"}}}
]}
], "spacing": -3},
{"vconcat": [
{"width": 432, "height": 432,
"title": {"text": "All future years (summer) London data", "fontSize": 12, "fontWeight": "bold", "anchor": "middle", "frame": "group", "offset": 11, "color": "black"},
"layer": [
{"data": {"name": "ringsBot"}, "mark": {"type": "text", "fontSize": 10, "baseline": "middle", "align": "center", "dy": -1.5, "color": "#222"}, "encoding": {"theta": {"datum": 0, "type": "quantitative", "scale": {"domain": [0, 360], "range": [0, 6.283185307179586]}}, "radius": {"field": "r", "type": "quantitative", "scale": {"type": "linear", "domain": [0, 1500], "range": [0, 184], "zero": true}}, "text": {"field": "lab"}}},
{"data": {"name": "wind"}, "transform": [{"filter": "datum.p === 'D'"}, {"fold": ["s1","s2","s3","s4","s5"], "as": ["cls","v"]}, {"stack": "v", "groupby": ["d"], "sort": [{"field": "cls", "order": "ascending"}], "as": ["r0","r1"]}, {"calculate": "datum.d - 5", "as": "t0"}, {"calculate": "datum.d + 5", "as": "t1"}], "mark": {"type": "arc", "stroke": "black", "strokeWidth": 0.6}, "encoding": {"theta": {"field": "t0", "type": "quantitative", "stack": null, "scale": {"domain": [0, 360], "range": [0, 6.283185307179586]}}, "theta2": {"field": "t1"}, "radius": {"field": "r1", "type": "quantitative", "stack": null, "scale": {"type": "linear", "domain": [0, 1500], "range": [0, 184], "zero": true}}, "radius2": {"field": "r0"}, "color": {"field": "cls", "type": "nominal", "legend": null, "scale": {"domain": ["s1","s2","s3","s4","s5"], "range": ["#FFFF00","#FFBF00","#FF8000","#FF4000","#FF0000"]}}}},
{"data": {"name": "ringsBot"}, "mark": {"type": "arc", "filled": false, "stroke": "black", "strokeWidth": 1}, "encoding": {"theta": {"datum": 0, "type": "quantitative", "scale": {"domain": [0, 360], "range": [0, 6.283185307179586]}}, "theta2": {"datum": 360}, "radius": {"field": "r", "type": "quantitative", "scale": {"type": "linear", "domain": [0, 1500], "range": [0, 184], "zero": true}}, "radius2": {"datum": 0}}},
{"data": {"name": "dirs"}, "transform": [{"calculate": "datum.d + 10", "as": "d2"}], "mark": {"type": "arc", "filled": false, "stroke": "black", "strokeWidth": 0.9}, "encoding": {"theta": {"field": "d", "type": "quantitative", "scale": {"domain": [0, 360], "range": [0, 6.283185307179586]}}, "theta2": {"field": "d2"}, "radius": {"datum": 1500, "type": "quantitative", "scale": {"type": "linear", "domain": [0, 1500], "range": [0, 184], "zero": true}}, "radius2": {"datum": 0}}},
{"data": {"name": "dirs"}, "mark": {"type": "text", "fontSize": 10.5, "baseline": "middle", "align": "center", "color": "#222"}, "encoding": {"theta": {"field": "d", "type": "quantitative", "scale": {"domain": [0, 360], "range": [0, 6.283185307179586]}}, "radius": {"datum": 1663, "type": "quantitative", "scale": {"type": "linear", "domain": [0, 1500], "range": [0, 184], "zero": true}}, "text": {"field": "lab"}}}
]},
{"width": 432, "height": 18, "data": {"name": "legend"},
"layer": [
{"mark": {"type": "rect", "stroke": "black", "strokeWidth": 1}, "encoding": {"x": {"field": "cls", "type": "nominal", "axis": null, "scale": {"type": "band", "domain": ["s1","s2","s3","s4","s5"], "range": [151, 282], "paddingInner": 0, "paddingOuter": 0}}, "color": {"field": "cls", "type": "nominal", "legend": null, "scale": {"domain": ["s1","s2","s3","s4","s5"], "range": ["#FFFF00","#FFBF00","#FF8000","#FF4000","#FF0000"]}}}},
{"mark": {"type": "text", "dy": -22, "fontSize": 10, "color": "#222", "align": "center", "baseline": "middle"}, "encoding": {"x": {"field": "cls", "type": "nominal", "bandPosition": 0, "axis": null, "scale": {"type": "band", "domain": ["s1","s2","s3","s4","s5"], "range": [151, 282], "paddingInner": 0, "paddingOuter": 0}}, "text": {"field": "kn"}}},
{"mark": {"type": "text", "dy": 21, "fontSize": 10, "color": "#222", "align": "center", "baseline": "middle"}, "encoding": {"x": {"field": "cls", "type": "nominal", "bandPosition": 0, "axis": null, "scale": {"type": "band", "domain": ["s1","s2","s3","s4","s5"], "range": [151, 282], "paddingInner": 0, "paddingOuter": 0}}, "text": {"field": "ms"}}},
{"data": {"values": [{"t": "(knots)"}]}, "mark": {"type": "text", "dy": -22, "dx": -1, "fontSize": 10, "color": "#222", "align": "left", "baseline": "middle"}, "encoding": {"x": {"datum": "s5", "type": "nominal", "bandPosition": 1, "axis": null, "scale": {"type": "band", "domain": ["s1","s2","s3","s4","s5"], "range": [151, 282], "paddingInner": 0, "paddingOuter": 0}}, "text": {"field": "t"}}},
{"data": {"values": [{"t": "(m/s)"}]}, "mark": {"type": "text", "dy": 21, "dx": -1, "fontSize": 10, "color": "#222", "align": "left", "baseline": "middle"}, "encoding": {"x": {"datum": "s5", "type": "nominal", "bandPosition": 1, "axis": null, "scale": {"type": "band", "domain": ["s1","s2","s3","s4","s5"], "range": [151, 282], "paddingInner": 0, "paddingOuter": 0}}, "text": {"field": "t"}}},
{"data": {"values": [{"t": "Wind speed"}]}, "mark": {"type": "text", "dx": 13, "fontSize": 10, "color": "#222", "align": "left", "baseline": "middle"}, "encoding": {"x": {"datum": "s5", "type": "nominal", "bandPosition": 1, "axis": null, "scale": {"type": "band", "domain": ["s1","s2","s3","s4","s5"], "range": [151, 282], "paddingInner": 0, "paddingOuter": 0}}, "text": {"field": "t"}}}
]}
], "spacing": -3}
], "spacing": 144}
], "spacing": 46},
{"hconcat": [
{"vconcat": [
{"width": 432, "height": 432,
"title": {"text": "All past years (winter) London data", "fontSize": 12, "fontWeight": "bold", "anchor": "middle", "frame": "group", "offset": 11, "color": "black"},
"layer": [
{"data": {"name": "ringsBot"}, "mark": {"type": "text", "fontSize": 10, "baseline": "middle", "align": "center", "dy": -1.5, "color": "#222"}, "encoding": {"theta": {"datum": 0, "type": "quantitative", "scale": {"domain": [0, 360], "range": [0, 6.283185307179586]}}, "radius": {"field": "r", "type": "quantitative", "scale": {"type": "linear", "domain": [0, 1500], "range": [0, 184], "zero": true}}, "text": {"field": "lab"}}},
{"data": {"name": "wind"}, "transform": [{"filter": "datum.p === 'E'"}, {"fold": ["s1","s2","s3","s4","s5"], "as": ["cls","v"]}, {"stack": "v", "groupby": ["d"], "sort": [{"field": "cls", "order": "ascending"}], "as": ["r0","r1"]}, {"calculate": "datum.d - 5", "as": "t0"}, {"calculate": "datum.d + 5", "as": "t1"}], "mark": {"type": "arc", "stroke": "black", "strokeWidth": 0.6}, "encoding": {"theta": {"field": "t0", "type": "quantitative", "stack": null, "scale": {"domain": [0, 360], "range": [0, 6.283185307179586]}}, "theta2": {"field": "t1"}, "radius": {"field": "r1", "type": "quantitative", "stack": null, "scale": {"type": "linear", "domain": [0, 1500], "range": [0, 184], "zero": true}}, "radius2": {"field": "r0"}, "color": {"field": "cls", "type": "nominal", "legend": null, "scale": {"domain": ["s1","s2","s3","s4","s5"], "range": ["#FFFF00","#FFBF00","#FF8000","#FF4000","#FF0000"]}}}},
{"data": {"name": "ringsBot"}, "mark": {"type": "arc", "filled": false, "stroke": "black", "strokeWidth": 1}, "encoding": {"theta": {"datum": 0, "type": "quantitative", "scale": {"domain": [0, 360], "range": [0, 6.283185307179586]}}, "theta2": {"datum": 360}, "radius": {"field": "r", "type": "quantitative", "scale": {"type": "linear", "domain": [0, 1500], "range": [0, 184], "zero": true}}, "radius2": {"datum": 0}}},
{"data": {"name": "dirs"}, "transform": [{"calculate": "datum.d + 10", "as": "d2"}], "mark": {"type": "arc", "filled": false, "stroke": "black", "strokeWidth": 0.9}, "encoding": {"theta": {"field": "d", "type": "quantitative", "scale": {"domain": [0, 360], "range": [0, 6.283185307179586]}}, "theta2": {"field": "d2"}, "radius": {"datum": 1500, "type": "quantitative", "scale": {"type": "linear", "domain": [0, 1500], "range": [0, 184], "zero": true}}, "radius2": {"datum": 0}}},
{"data": {"name": "dirs"}, "mark": {"type": "text", "fontSize": 10.5, "baseline": "middle", "align": "center", "color": "#222"}, "encoding": {"theta": {"field": "d", "type": "quantitative", "scale": {"domain": [0, 360], "range": [0, 6.283185307179586]}}, "radius": {"datum": 1663, "type": "quantitative", "scale": {"type": "linear", "domain": [0, 1500], "range": [0, 184], "zero": true}}, "text": {"field": "lab"}}}
]},
{"width": 432, "height": 18, "data": {"name": "legend"},
"layer": [
{"mark": {"type": "rect", "stroke": "black", "strokeWidth": 1}, "encoding": {"x": {"field": "cls", "type": "nominal", "axis": null, "scale": {"type": "band", "domain": ["s1","s2","s3","s4","s5"], "range": [151, 282], "paddingInner": 0, "paddingOuter": 0}}, "color": {"field": "cls", "type": "nominal", "legend": null, "scale": {"domain": ["s1","s2","s3","s4","s5"], "range": ["#FFFF00","#FFBF00","#FF8000","#FF4000","#FF0000"]}}}},
{"mark": {"type": "text", "dy": -22, "fontSize": 10, "color": "#222", "align": "center", "baseline": "middle"}, "encoding": {"x": {"field": "cls", "type": "nominal", "bandPosition": 0, "axis": null, "scale": {"type": "band", "domain": ["s1","s2","s3","s4","s5"], "range": [151, 282], "paddingInner": 0, "paddingOuter": 0}}, "text": {"field": "kn"}}},
{"mark": {"type": "text", "dy": 21, "fontSize": 10, "color": "#222", "align": "center", "baseline": "middle"}, "encoding": {"x": {"field": "cls", "type": "nominal", "bandPosition": 0, "axis": null, "scale": {"type": "band", "domain": ["s1","s2","s3","s4","s5"], "range": [151, 282], "paddingInner": 0, "paddingOuter": 0}}, "text": {"field": "ms"}}},
{"data": {"values": [{"t": "(knots)"}]}, "mark": {"type": "text", "dy": -22, "dx": -1, "fontSize": 10, "color": "#222", "align": "left", "baseline": "middle"}, "encoding": {"x": {"datum": "s5", "type": "nominal", "bandPosition": 1, "axis": null, "scale": {"type": "band", "domain": ["s1","s2","s3","s4","s5"], "range": [151, 282], "paddingInner": 0, "paddingOuter": 0}}, "text": {"field": "t"}}},
{"data": {"values": [{"t": "(m/s)"}]}, "mark": {"type": "text", "dy": 21, "dx": -1, "fontSize": 10, "color": "#222", "align": "left", "baseline": "middle"}, "encoding": {"x": {"datum": "s5", "type": "nominal", "bandPosition": 1, "axis": null, "scale": {"type": "band", "domain": ["s1","s2","s3","s4","s5"], "range": [151, 282], "paddingInner": 0, "paddingOuter": 0}}, "text": {"field": "t"}}},
{"data": {"values": [{"t": "Wind speed"}]}, "mark": {"type": "text", "dx": 13, "fontSize": 10, "color": "#222", "align": "left", "baseline": "middle"}, "encoding": {"x": {"datum": "s5", "type": "nominal", "bandPosition": 1, "axis": null, "scale": {"type": "band", "domain": ["s1","s2","s3","s4","s5"], "range": [151, 282], "paddingInner": 0, "paddingOuter": 0}}, "text": {"field": "t"}}}
]}
], "spacing": -3},
{"vconcat": [
{"width": 432, "height": 432,
"title": {"text": "All future years (winter) London data", "fontSize": 12, "fontWeight": "bold", "anchor": "middle", "frame": "group", "offset": 11, "color": "black"},
"layer": [
{"data": {"name": "ringsBot"}, "mark": {"type": "text", "fontSize": 10, "baseline": "middle", "align": "center", "dy": -1.5, "color": "#222"}, "encoding": {"theta": {"datum": 0, "type": "quantitative", "scale": {"domain": [0, 360], "range": [0, 6.283185307179586]}}, "radius": {"field": "r", "type": "quantitative", "scale": {"type": "linear", "domain": [0, 1500], "range": [0, 184], "zero": true}}, "text": {"field": "lab"}}},
{"data": {"name": "wind"}, "transform": [{"filter": "datum.p === 'F'"}, {"fold": ["s1","s2","s3","s4","s5"], "as": ["cls","v"]}, {"stack": "v", "groupby": ["d"], "sort": [{"field": "cls", "order": "ascending"}], "as": ["r0","r1"]}, {"calculate": "datum.d - 5", "as": "t0"}, {"calculate": "datum.d + 5", "as": "t1"}], "mark": {"type": "arc", "stroke": "black", "strokeWidth": 0.6}, "encoding": {"theta": {"field": "t0", "type": "quantitative", "stack": null, "scale": {"domain": [0, 360], "range": [0, 6.283185307179586]}}, "theta2": {"field": "t1"}, "radius": {"field": "r1", "type": "quantitative", "stack": null, "scale": {"type": "linear", "domain": [0, 1500], "range": [0, 184], "zero": true}}, "radius2": {"field": "r0"}, "color": {"field": "cls", "type": "nominal", "legend": null, "scale": {"domain": ["s1","s2","s3","s4","s5"], "range": ["#FFFF00","#FFBF00","#FF8000","#FF4000","#FF0000"]}}}},
{"data": {"name": "ringsBot"}, "mark": {"type": "arc", "filled": false, "stroke": "black", "strokeWidth": 1}, "encoding": {"theta": {"datum": 0, "type": "quantitative", "scale": {"domain": [0, 360], "range": [0, 6.283185307179586]}}, "theta2": {"datum": 360}, "radius": {"field": "r", "type": "quantitative", "scale": {"type": "linear", "domain": [0, 1500], "range": [0, 184], "zero": true}}, "radius2": {"datum": 0}}},
{"data": {"name": "dirs"}, "transform": [{"calculate": "datum.d + 10", "as": "d2"}], "mark": {"type": "arc", "filled": false, "stroke": "black", "strokeWidth": 0.9}, "encoding": {"theta": {"field": "d", "type": "quantitative", "scale": {"domain": [0, 360], "range": [0, 6.283185307179586]}}, "theta2": {"field": "d2"}, "radius": {"datum": 1500, "type": "quantitative", "scale": {"type": "linear", "domain": [0, 1500], "range": [0, 184], "zero": true}}, "radius2": {"datum": 0}}},
{"data": {"name": "dirs"}, "mark": {"type": "text", "fontSize": 10.5, "baseline": "middle", "align": "center", "color": "#222"}, "encoding": {"theta": {"field": "d", "type": "quantitative", "scale": {"domain": [0, 360], "range": [0, 6.283185307179586]}}, "radius": {"datum": 1663, "type": "quantitative", "scale": {"type": "linear", "domain": [0, 1500], "range": [0, 184], "zero": true}}, "text": {"field": "lab"}}}
]},
{"width": 432, "height": 18, "data": {"name": "legend"},
"layer": [
{"mark": {"type": "rect", "stroke": "black", "strokeWidth": 1}, "encoding": {"x": {"field": "cls", "type": "nominal", "axis": null, "scale": {"type": "band", "domain": ["s1","s2","s3","s4","s5"], "range": [151, 282], "paddingInner": 0, "paddingOuter": 0}}, "color": {"field": "cls", "type": "nominal", "legend": null, "scale": {"domain": ["s1","s2","s3","s4","s5"], "range": ["#FFFF00","#FFBF00","#FF8000","#FF4000","#FF0000"]}}}},
{"mark": {"type": "text", "dy": -22, "fontSize": 10, "color": "#222", "align": "center", "baseline": "middle"}, "encoding": {"x": {"field": "cls", "type": "nominal", "bandPosition": 0, "axis": null, "scale": {"type": "band", "domain": ["s1","s2","s3","s4","s5"], "range": [151, 282], "paddingInner": 0, "paddingOuter": 0}}, "text": {"field": "kn"}}},
{"mark": {"type": "text", "dy": 21, "fontSize": 10, "color": "#222", "align": "center", "baseline": "middle"}, "encoding": {"x": {"field": "cls", "type": "nominal", "bandPosition": 0, "axis": null, "scale": {"type": "band", "domain": ["s1","s2","s3","s4","s5"], "range": [151, 282], "paddingInner": 0, "paddingOuter": 0}}, "text": {"field": "ms"}}},
{"data": {"values": [{"t": "(knots)"}]}, "mark": {"type": "text", "dy": -22, "dx": -1, "fontSize": 10, "color": "#222", "align": "left", "baseline": "middle"}, "encoding": {"x": {"datum": "s5", "type": "nominal", "bandPosition": 1, "axis": null, "scale": {"type": "band", "domain": ["s1","s2","s3","s4","s5"], "range": [151, 282], "paddingInner": 0, "paddingOuter": 0}}, "text": {"field": "t"}}},
{"data": {"values": [{"t": "(m/s)"}]}, "mark": {"type": "text", "dy": 21, "dx": -1, "fontSize": 10, "color": "#222", "align": "left", "baseline": "middle"}, "encoding": {"x": {"datum": "s5", "type": "nominal", "bandPosition": 1, "axis": null, "scale": {"type": "band", "domain": ["s1","s2","s3","s4","s5"], "range": [151, 282], "paddingInner": 0, "paddingOuter": 0}}, "text": {"field": "t"}}},
{"data": {"values": [{"t": "Wind speed"}]}, "mark": {"type": "text", "dx": 13, "fontSize": 10, "color": "#222", "align": "left", "baseline": "middle"}, "encoding": {"x": {"datum": "s5", "type": "nominal", "bandPosition": 1, "axis": null, "scale": {"type": "band", "domain": ["s1","s2","s3","s4","s5"], "range": [151, 282], "paddingInner": 0, "paddingOuter": 0}}, "text": {"field": "t"}}}
]}
], "spacing": -3}
], "spacing": 144}
],
"spacing": 70
}
